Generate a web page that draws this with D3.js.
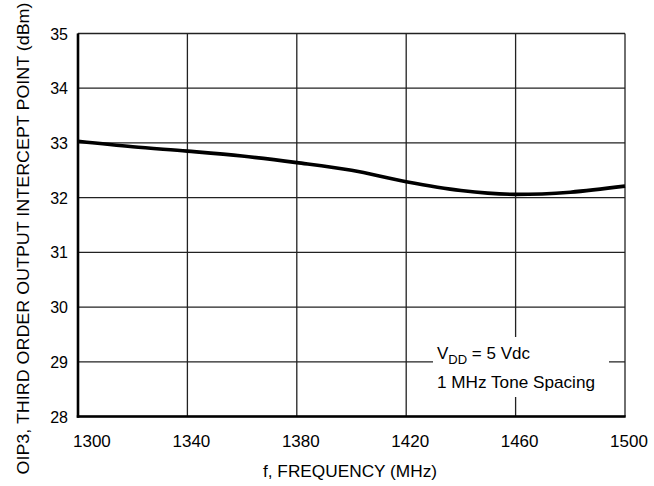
<!DOCTYPE html>
<html><head><meta charset="utf-8">
<script src="https://cdn.jsdelivr.net/npm/d3@7/dist/d3.min.js"></script>
<style>body{margin:0;background:#fff}svg{display:block}text{font-family:"Liberation Sans",Arial,sans-serif;fill:#000}</style>
</head><body><svg width="654" height="486"></svg>
<script>
const freq = [1300, 1320, 1340, 1360, 1380, 1400, 1420, 1440, 1460, 1480, 1500];
const oip3 = [33.03, 32.93, 32.85, 32.76, 32.64, 32.5, 32.29, 32.13, 32.06, 32.1, 32.21];
const xTicks = [1300, 1340, 1380, 1420, 1460, 1500];
const yTicks = [28, 29, 30, 31, 32, 33, 34, 35];

const svg = d3.select("svg");
const L = 78, R = 625, T = 33.5, B = 416.5;
const x = d3.scaleLinear().domain([1300, 1500]).range([L, R]);
const y = d3.scaleLinear().domain([28, 35]).range([B, T]);

// grid
svg.append("g").selectAll("line").data(yTicks).join("line")
  .attr("x1", L).attr("x2", R).attr("y1", d => y(d)).attr("y2", d => y(d))
  .attr("stroke", "#222").attr("stroke-width", 1.3);
svg.append("g").selectAll("line").data(xTicks).join("line")
  .attr("x1", d => x(d)).attr("x2", d => x(d)).attr("y1", T).attr("y2", B)
  .attr("stroke", "#222").attr("stroke-width", 1.3);

// legend box (masks grid)
svg.append("rect").attr("x", 433).attr("y", 337).attr("width", 176).attr("height", 60).attr("fill", "#fff");
const lg = svg.append("text").attr("x", 437).attr("y", 359).style("font-size", "17px");
lg.append("tspan").text("V");
lg.append("tspan").attr("dy", 5).style("font-size", "13px").text("DD");
lg.append("tspan").attr("dy", -5).text(" = 5 Vdc");
svg.append("text").attr("x", 437).attr("y", 388).style("font-size", "17px")
  .attr("textLength", 158).attr("lengthAdjust", "spacingAndGlyphs").text("1 MHz Tone Spacing");

// axes
svg.append("line").attr("x1", L).attr("x2", L).attr("y1", T).attr("y2", B + 1.2).attr("stroke", "#000").attr("stroke-width", 2.6);
svg.append("line").attr("x1", L - 1.2).attr("x2", R + 0.7).attr("y1", B).attr("y2", B).attr("stroke", "#000").attr("stroke-width", 2.6);

// curve
svg.append("path").datum(freq.map((f, i) => [f, oip3[i]]))
  .attr("fill", "none").attr("stroke", "#000").attr("stroke-width", 3.6)
  .attr("d", d3.line().x(d => x(d[0])).y(d => y(d[1])).curve(d3.curveMonotoneX));

// tick labels
svg.append("g").selectAll("text").data(yTicks).join("text")
  .attr("x", 68).attr("y", d => y(d) + 6).attr("text-anchor", "end")
  .style("font-size", "16px").text(d => d);
svg.append("g").selectAll("text").data(xTicks).join("text")
  .attr("x", (d, i) => i === 0 ? x(d) - 5 : x(d) + 4)
  .attr("y", 447).attr("text-anchor", (d, i) => i === 0 ? "start" : "middle")
  .style("font-size", "17px").text(d => d);

// titles
svg.append("text").attr("x", 350).attr("y", 477).attr("text-anchor", "middle")
  .style("font-size", "17px").attr("textLength", 174).attr("lengthAdjust", "spacingAndGlyphs")
  .text("f, FREQUENCY (MHz)");
svg.append("text").attr("transform", "translate(29,238.5) rotate(-90)").attr("text-anchor", "middle")
  .style("font-size", "17px").attr("textLength", 472).attr("lengthAdjust", "spacingAndGlyphs")
  .text("OIP3, THIRD ORDER OUTPUT INTERCEPT POINT (dBm)");
</script></body></html>
